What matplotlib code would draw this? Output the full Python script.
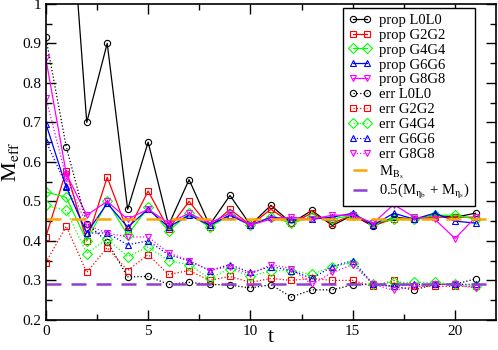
import numpy as np
import matplotlib
matplotlib.use("Agg")
import matplotlib.pyplot as plt

plt.rcParams['font.family'] = ['Liberation Serif', 'DejaVu Serif']
plt.rcParams['mathtext.fontset'] = 'stix'

t = np.arange(22)

prop_L0L0 = [1.55, 1.40, 0.70, 0.90, 0.48, 0.65, 0.44, 0.555, 0.44, 0.515, 0.44,
             0.49, 0.445, 0.477, 0.439, 0.465, 0.437, 0.46, 0.455, 0.465, 0.46, 0.47]
prop_G2G2 = [0.41, 0.578, 0.40, 0.561, 0.424, 0.526, 0.43, 0.50, 0.435, 0.48, 0.44,
             0.48, 0.445, 0.47, 0.445, 0.465, 0.44, 0.455, 0.455, 0.46, 0.46, 0.46]
prop_G4G4 = [0.524, 0.51, 0.40, 0.50, 0.415, 0.485, 0.425, 0.47, 0.435, 0.465, 0.44,
             0.46, 0.445, 0.46, 0.455, 0.465, 0.445, 0.455, 0.455, 0.465, 0.465, 0.455]
prop_G6G6 = [0.697, 0.536, 0.42, 0.495, 0.435, 0.48, 0.435, 0.465, 0.44, 0.465, 0.44,
             0.46, 0.455, 0.455, 0.46, 0.47, 0.44, 0.47, 0.455, 0.47, 0.45, 0.445]
prop_G8G8 = [0.862, 0.57, 0.465, 0.50, 0.455, 0.48, 0.445, 0.47, 0.445, 0.47, 0.44,
             0.455, 0.46, 0.455, 0.465, 0.465, 0.445, 0.492, 0.46, 0.455, 0.406, 0.46]

err_L0L0 = [0.915, 0.638, 0.444, 0.398, 0.309, 0.31, 0.29, 0.295, 0.29, 0.288, 0.281,
            0.289, 0.258, 0.276, 0.276, 0.289, 0.29, 0.285, 0.276, 0.29, 0.29, 0.304]
err_G2G2 = [0.345, 0.437, 0.32, 0.383, 0.325, 0.365, 0.315, 0.325, 0.30, 0.31, 0.295,
            0.305, 0.30, 0.305, 0.30, 0.30, 0.285, 0.30, 0.285, 0.285, 0.285, 0.285]
err_G4G4 = [0.49, 0.477, 0.368, 0.405, 0.36, 0.385, 0.35, 0.34, 0.305, 0.33, 0.31,
            0.325, 0.325, 0.315, 0.335, 0.345, 0.29, 0.295, 0.295, 0.295, 0.29, 0.285]
err_G6G6 = [0.653, 0.54, 0.42, 0.42, 0.39, 0.40, 0.365, 0.35, 0.325, 0.34, 0.32,
            0.335, 0.325, 0.305, 0.335, 0.35, 0.29, 0.285, 0.29, 0.29, 0.29, 0.29]
err_G8G8 = [0.762, 0.56, 0.44, 0.42, 0.41, 0.41, 0.37, 0.35, 0.325, 0.335, 0.315,
            0.34, 0.33, 0.29, 0.32, 0.34, 0.29, 0.275, 0.285, 0.29, 0.29, 0.28]

M_Bs = 0.455
M_eta_avg = 0.292

series = [
    ("prop L0L0", prop_L0L0, "black", "o", "-", 4.5),
    ("prop G2G2", prop_G2G2, "red", "s", "-", 4.5),
    ("prop G4G4", prop_G4G4, "#00ff00", "D", "-", 5.5),
    ("prop G6G6", prop_G6G6, "blue", "^", "-", 5),
    ("prop G8G8", prop_G8G8, "magenta", "v", "-", 5),
    ("err L0L0", err_L0L0, "black", "o", ":", 4.5),
    ("err G2G2", err_G2G2, "red", "s", ":", 4.5),
    ("err G4G4", err_G4G4, "#00ff00", "D", ":", 5.5),
    ("err G6G6", err_G6G6, "blue", "^", ":", 5),
    ("err G8G8", err_G8G8, "magenta", "v", ":", 5),
]

fig = plt.figure(figsize=(4.98, 3.5), dpi=100)
ax = fig.add_axes([0.092, 0.086, 0.904, 0.903])

for name, y, c, m, ls, ms in series:
    ax.plot(t, y, color=c, marker=m, ls=ls, lw=0.9, ms=ms, mfc='none',
            mew=0.8, label=name)

ax.axhline(M_Bs, color='orange', ls=(0, (6, 4)), lw=1.8, label=r'M$_{\mathrm{B_s}}$')
ax.axhline(M_eta_avg, color='#9040d0', ls=(0, (6, 4)), lw=1.8,
           label=r'0.5(M$_{\mathrm{\eta_b}}$ + M$_{\mathrm{\eta_s}}$)')

ax.set_xlim(0, 22)
ax.set_ylim(0.2, 1.0)
ax.set_xticks([0, 5, 10, 15, 20])
ax.set_xticks(np.arange(0, 22.1, 2.5), minor=True)
ax.set_yticks(np.arange(0.2, 1.01, 0.1))
ax.set_yticklabels(['0.2', '0.3', '0.4', '0.5', '0.6', '0.7', '0.8', '0.9', '1'])
ax.set_yticks(np.arange(0.2, 1.01, 0.05), minor=True)
ax.tick_params(which='both', direction='in', top=True, right=True, labelsize=11)
ax.tick_params(which='major', length=7, width=1)
ax.tick_params(which='minor', length=4, width=1)
for s in ax.spines.values():
    s.set_linewidth(1.2)

ax.set_xlabel('t', fontsize=16)
ax.xaxis.set_label_coords(0.5, -0.025)
ax.set_ylabel(r'M$_{\mathrm{eff}}$', fontsize=16)
ax.yaxis.set_label_coords(-0.055, 0.5)

leg = ax.legend(loc='upper right', bbox_to_anchor=(0.96, 0.995), fontsize=10.5,
                numpoints=2, handlelength=1.6, labelspacing=0.12,
                fancybox=False, edgecolor='black', framealpha=1,
                borderpad=0.35, handletextpad=0.5, borderaxespad=0.2)
leg.get_frame().set_linewidth(1.0)

fig.savefig('out.png', dpi=100)
